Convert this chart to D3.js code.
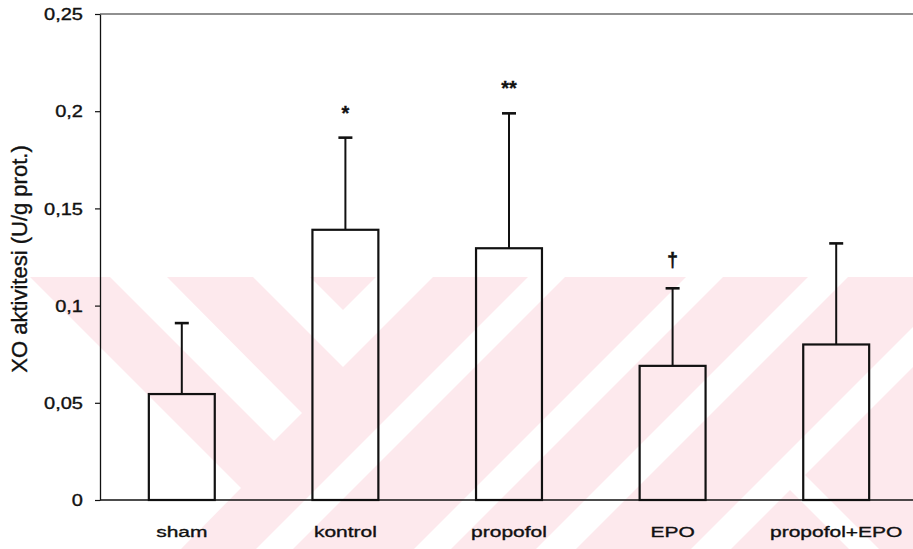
<!DOCTYPE html>
<html>
<head>
<meta charset="utf-8">
<script src="https://cdn.jsdelivr.net/npm/d3@7"></script>
<style>
    body { margin: 0; background: #fff; }
    svg text { font-family: "Liberation Sans", Arial, sans-serif; fill: #111; stroke: #111; stroke-width: 0.35px; }
</style>
</head>
<body>
<script>
// chart data
var groups = ["sham", "kontrol", "propofol", "EPO", "propofol+EPO"];
var means = [0.0545, 0.139, 0.1295, 0.069, 0.080];
var sds = [0.0365, 0.0474, 0.0694, 0.0399, 0.052];
var marks = ["", "*", "**", "\u2020", ""];
var yTicks = [0, 0.05, 0.1, 0.15, 0.2, 0.25];
var yTitle = "XO aktivitesi (U/g prot.)";

(function(){
    var width = 913,
        height = 549,
        left = 100,
        top = 14,
        bottom = 500;

    var svg = d3.select("body")
        .append("svg")
        .attr("width", width)
        .attr("height", height);

    svg.append("rect")
        .attr("width", width)
        .attr("height", height)
        .attr("fill", "#fff");

    drawWatermark(svg);

    var x = d3.scaleBand()
        .domain(groups)
        .range([left, 918])
        .paddingInner(0.597)
        .paddingOuter(0.2985);

    var y = d3.scaleLinear()
        .domain([0, 0.25])
        .range([bottom, top]);

    var comma = d3.formatLocale({decimal: ",", thousands: ".", grouping: [3], currency: ["", ""]}).format("~g");

    var data = groups.map(function(g, i){
        return {name: g, mean: means[i], sd: sds[i], mark: marks[i]};
    });

    // y axis
    var yAxis = svg.append("g")
        .attr("transform", "translate(" + left + ",0)")
        .call(d3.axisLeft(y).tickValues(yTicks).tickFormat(comma).tickSize(5).tickSizeOuter(0));

    yAxis.select(".domain").attr("stroke", "#111").attr("stroke-width", 1.3);
    yAxis.selectAll(".tick line").attr("stroke", "#111").attr("stroke-width", 1.2);
    yAxis.selectAll(".tick text")
        .attr("x", null)
        .attr("dy", "0.36em")
        .attr("transform", "translate(-17,0) scale(1.25,1)")
        .style("font-size", "16px")
        .style("text-anchor", "end")
        .attr("fill", "#111");

    // top frame line
    svg.append("line")
        .attr("x1", left)
        .attr("x2", width)
        .attr("y1", y(0.25))
        .attr("y2", y(0.25))
        .attr("stroke", "#222")
        .attr("stroke-width", 1.2);

    var cx = function(d){ return x(d.name) + x.bandwidth() / 2; };

    // bars
    svg.selectAll(".bar")
        .data(data)
        .enter()
        .append("rect")
        .attr("class", "bar")
        .attr("x", d => x(d.name))
        .attr("y", d => y(d.mean))
        .attr("width", x.bandwidth())
        .attr("height", d => y(0) - y(d.mean))
        .attr("fill", "none")
        .attr("stroke", "#111")
        .attr("stroke-width", 2.2);

    // error bars (upper only)
    svg.selectAll(".stem")
        .data(data)
        .enter()
        .append("line")
        .attr("class", "stem")
        .attr("x1", cx)
        .attr("x2", cx)
        .attr("y1", d => y(d.mean))
        .attr("y2", d => y(d.mean + d.sd))
        .attr("stroke", "#111")
        .attr("stroke-width", 2);

    svg.selectAll(".cap")
        .data(data)
        .enter()
        .append("line")
        .attr("class", "cap")
        .attr("x1", d => cx(d) - 7)
        .attr("x2", d => cx(d) + 7)
        .attr("y1", d => y(d.mean + d.sd))
        .attr("y2", d => y(d.mean + d.sd))
        .attr("stroke", "#111")
        .attr("stroke-width", 2.6);

    // significance marks
    svg.selectAll(".mark")
        .data(data.filter(d => d.mark))
        .enter()
        .append("text")
        .attr("class", "mark")
        .attr("x", cx)
        .attr("y", function(d){
            return y(d.mean + d.sd) - (d.mark === "\u2020" ? 21 : 18);
        })
        .attr("text-anchor", "middle")
        .style("font-size", "20px")
        .style("font-weight", "bold")
        .text(d => d.mark);

    // x axis line
    svg.append("line")
        .attr("x1", left)
        .attr("x2", width)
        .attr("y1", y(0))
        .attr("y2", y(0))
        .attr("stroke", "#111")
        .attr("stroke-width", 1.6);

    svg.selectAll(".xlabel")
        .data(data)
        .enter()
        .append("text")
        .attr("class", "xlabel")
        .attr("transform", d => "translate(" + cx(d) + ",537) scale(1.4,1)")
        .attr("text-anchor", "middle")
        .style("font-size", "15px")
        .text(d => d.name);

    svg.append("text")
        .attr("transform", "translate(27,259) rotate(-90)")
        .attr("text-anchor", "middle")
        .style("font-size", "22px")
        .text(yTitle);

    // faint diagonal watermark behind the plot
    function drawWatermark(svg){
        var y0 = 277, y1 = 549, w = 913;
        var g = svg.append("g").attr("class", "watermark");

        g.append("rect")
            .attr("x", 0)
            .attr("y", y0)
            .attr("width", w)
            .attr("height", y1 - y0)
            .attr("fill", "#fde9ed");

        var gaps = [
            [[0, y0], [30, y0], [241, 488], [181, y1], [0, y1]],
            [[110, y0], [167, y0], [302, 413], [274, 441]],
            [[253, y0], [310, y0], [343, 310], [376, y0], [433, y0], [343, 367]],
            [[770, 470], [800, 470], [879, y1], [849, y1]]
        ];

        // "/" stripes given by x + y ranges
        [[805, 842], [963, 1000], [1085, 1125], [1240, 1280]].forEach(function(c){
            gaps.push([[c[0] - y0, y0], [c[1] - y0, y0], [c[1] - y1, y1], [c[0] - y1, y1]]);
        });

        g.selectAll("polygon")
            .data(gaps)
            .enter()
            .append("polygon")
            .attr("points", p => p.map(q => q.join(",")).join(" "))
            .attr("fill", "#fff");
    }
})();
</script>
</body>
</html>
